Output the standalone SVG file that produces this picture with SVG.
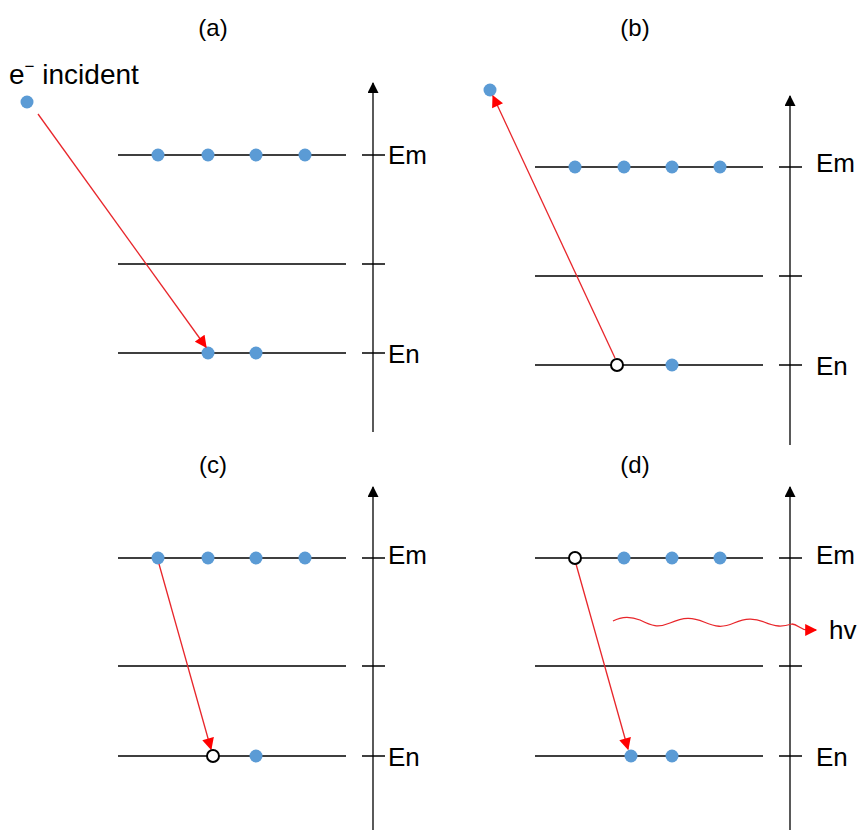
<svg xmlns="http://www.w3.org/2000/svg" width="858" height="830" viewBox="0 0 858 830">
<style>
.lv{stroke:#000;stroke-width:1.3;fill:none}
.ax{stroke:#000;stroke-width:1.3;fill:none}
.t{font-family:"Liberation Sans",Arial,sans-serif;font-size:24px;fill:#000}
.lab{font-family:"Liberation Sans",Arial,sans-serif;font-size:26px;fill:#000}
.big{font-family:"Liberation Sans",Arial,sans-serif;font-size:28px;fill:#000}
.sup{font-size:17px}
.e{fill:#5b9bd5}
.h{fill:#fff;stroke:#000;stroke-width:2}
.ar{stroke:#e8262b;stroke-width:1.3;fill:none}
</style>
<defs>
<marker id="ah" viewBox="0 0 10 10" refX="9" refY="5" markerWidth="13" markerHeight="11" markerUnits="userSpaceOnUse" orient="auto"><path d="M0,0 L10,5 L0,10 z" fill="#000"/></marker>
<marker id="rh" viewBox="0 0 10 10" refX="9" refY="5" markerWidth="13" markerHeight="12" markerUnits="userSpaceOnUse" orient="auto"><path d="M0,0 L10,5 L0,10 z" fill="#f00"/></marker>
</defs>

<g id="panel-a">
<text class="t" x="213" y="36" text-anchor="middle">(a)</text>
<text class="big" x="9" y="84">e<tspan class="sup" dy="-12">−</tspan><tspan dy="12"> incident</tspan></text>
<path class="ax" d="M373,432 V83" marker-end="url(#ah)"/>
<path class="lv" d="M118,155 H346 M362,155 H385 M118,264 H346 M362,264 H385 M118,353 H346 M362,353 H385"/>
<text class="lab" x="388" y="164">Em</text>
<text class="lab" x="388" y="363">En</text>
<circle class="e" cx="158" cy="155" r="6.5"/><circle class="e" cx="208" cy="155" r="6.5"/><circle class="e" cx="256" cy="155" r="6.5"/><circle class="e" cx="305" cy="155" r="6.5"/>
<circle class="e" cx="208" cy="353" r="6.5"/><circle class="e" cx="256" cy="353" r="6.5"/>
<circle class="e" cx="27" cy="102" r="6.5"/>
</g>

<g id="panel-b">
<text class="t" x="635" y="36" text-anchor="middle">(b)</text>
<path class="ax" d="M790,445 V96" marker-end="url(#ah)"/>
<path class="lv" d="M535,167 H763 M779,167 H802 M535,276 H763 M779,276 H802 M535,365 H763 M779,365 H802"/>
<text class="lab" x="816" y="172">Em</text>
<text class="lab" x="816" y="375">En</text>
<circle class="e" cx="575" cy="167" r="6.5"/><circle class="e" cx="624" cy="167" r="6.5"/><circle class="e" cx="672" cy="167" r="6.5"/><circle class="e" cx="720" cy="167" r="6.5"/>
<circle class="e" cx="672" cy="365" r="6.5"/>
<circle class="e" cx="490" cy="90" r="6.5"/>
</g>

<g id="panel-c">
<text class="t" x="213" y="473" text-anchor="middle">(c)</text>
<path class="ax" d="M373,830 V487" marker-end="url(#ah)"/>
<path class="lv" d="M118,558 H346 M362,558 H385 M118,666 H346 M362,666 H385 M118,756 H346 M362,756 H385"/>
<text class="lab" x="388" y="564">Em</text>
<text class="lab" x="388" y="766">En</text>
<circle class="e" cx="158" cy="558" r="6.5"/><circle class="e" cx="208" cy="558" r="6.5"/><circle class="e" cx="256" cy="558" r="6.5"/><circle class="e" cx="305" cy="558" r="6.5"/>
<circle class="e" cx="256" cy="756" r="6.5"/>
</g>

<g id="panel-d">
<text class="t" x="635" y="473" text-anchor="middle">(d)</text>
<path class="ax" d="M790,830 V487" marker-end="url(#ah)"/>
<path class="lv" d="M535,558 H763 M779,558 H802 M535,666 H763 M779,666 H802 M535,756 H763 M779,756 H802"/>
<text class="lab" x="816" y="564">Em</text>
<text class="lab" x="816" y="766">En</text>
<circle class="e" cx="624" cy="558" r="6.5"/><circle class="e" cx="672" cy="558" r="6.5"/><circle class="e" cx="720" cy="558" r="6.5"/>
<circle class="e" cx="631" cy="756" r="6.5"/><circle class="e" cx="672" cy="756" r="6.5"/>
<text class="lab" x="829" y="639">hv</text>
</g>

<g id="connectors">
<path class="ar" d="M38,114 L206,347" marker-end="url(#rh)"/>
<path class="ar" d="M615,358 L493,96" marker-end="url(#rh)"/>
<path class="ar" d="M159,564 L211,749" marker-end="url(#rh)"/>
<path class="ar" d="M576,564 L628,749" marker-end="url(#rh)"/>
<path class="ar" d="M613,621 C622,616 630,616 640,620 C652,626 658,628 670,623 C684,617 692,617 704,622 C716,627 722,628 734,623 C746,618 754,618 764,622 C776,627 782,627 792,624 C798,624 800,630 808,630 L816,630" marker-end="url(#rh)"/>
</g>

<g id="holes">
<circle class="h" cx="617" cy="365" r="6"/>
<circle class="h" cx="213" cy="756" r="6"/>
<circle class="h" cx="575" cy="558" r="6"/>
</g>
</svg>
